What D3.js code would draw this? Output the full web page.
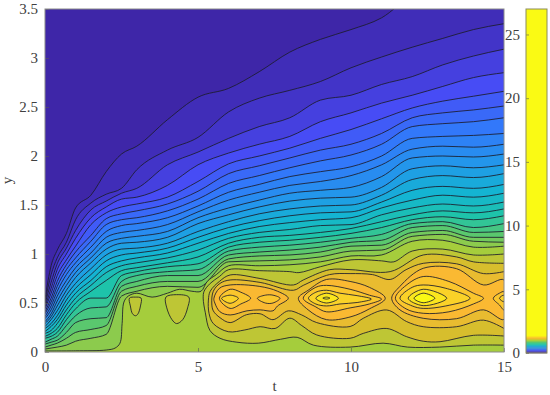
<!DOCTYPE html>
<html>
<head>
<meta charset="utf-8">
<script src="https://cdn.jsdelivr.net/npm/d3@7"></script>
<style>
  html, body { margin: 0; padding: 0; background: white; }
  svg { display: block; }
  text { font-family: "Liberation Serif", serif; font-size: 15px; fill: #404040; }
</style>
</head>
<body>
<div id="chart"></div>
<script>
const tTicks = [0, 5, 10, 15];
const yTicks = [0, 0.5, 1, 1.5, 2, 2.5, 3, 3.5];
const barTicks = [0, 5, 10, 15, 20, 25];

// t values of the rows in contourRows
const tKnots = [0, 0.2, 0.4, 0.7, 1, 1.5, 2, 2.5, 3, 4, 5, 6, 7, 8, 9, 10, 11, 12, 13, 14, 15];

// one row per t, one column per contour level 1..21, values are y
const contourRows = [
  [.54,.51,.49,.46,.44,.41,.39,.36,.34,.31,.29,.26,.24,.21,.19,.16,.14,.10,.08,.05,.03],
  [.88,.79,.71,.65,.60,.55,.51,.47,.43,.39,.36,.33,.29,.26,.22,.19,.16,.13,.10,.07,.04],
  [1.04,.96,.90,.84,.78,.72,.67,.62,.57,.52,.47,.42,.37,.33,.29,.24,.20,.16,.12,.09,.05],
  [1.21,1.12,1.06,1.00,.94,.89,.84,.79,.73,.68,.63,.58,.53,.48,.43,.38,.33,.27,.20,.14,.07],
  [1.47,1.35,1.24,1.16,1.08,1.02,.96,.91,.86,.81,.76,.70,.65,.60,.55,.50,.44,.37,.30,.20,.11],
  [1.60,1.52,1.45,1.37,1.30,1.19,1.13,1.07,1.01,.96,.91,.85,.79,.73,.68,.62,.55,.45,.34,.23,.14],
  [1.84,1.61,1.54,1.48,1.42,1.36,1.30,1.23,1.17,1.11,1.05,.99,.93,.87,.81,.73,.55,.46,.35,.27,.18],
  [2.02,1.67,1.62,1.56,1.48,1.41,1.35,1.29,1.22,1.16,1.11,1.05,.99,.93,.88,.83,.78,.72,.67,.62,.57],
  [2.10,1.86,1.67,1.58,1.51,1.44,1.37,1.31,1.24,1.18,1.12,1.06,1.01,.96,.91,.86,.82,.78,.72,.67,.62],
  [2.37,2.06,1.91,1.70,1.58,1.51,1.44,1.37,1.30,1.23,1.17,1.11,1.06,1.01,.96,.91,.87,.82,.78,.72,.67],
  [2.60,2.19,2.04,1.91,1.74,1.64,1.56,1.49,1.43,1.37,1.31,1.23,1.17,1.11,1.04,.97,.90,.84,.78,.72,.66],
  [2.69,2.45,2.18,2.03,1.92,1.82,1.72,1.63,1.55,1.47,1.40,1.33,1.27,1.21,1.16,1.11,1.07,1.03,.99,.95,.92],
  [2.86,2.59,2.30,2.12,2.00,1.90,1.80,1.71,1.63,1.55,1.48,1.41,1.34,1.28,1.22,1.17,1.12,1.07,1.02,.98,.93],
  [3.06,2.67,2.39,2.20,2.08,1.98,1.88,1.79,1.70,1.62,1.54,1.46,1.39,1.32,1.25,1.19,1.14,1.09,1.04,.99,.94],
  [3.19,2.76,2.57,2.35,2.18,2.06,1.95,1.84,1.74,1.65,1.57,1.49,1.42,1.35,1.29,1.22,1.17,1.12,1.07,1.02,.97],
  [3.29,2.90,2.62,2.44,2.27,2.12,2.01,1.89,1.80,1.68,1.58,1.50,1.43,1.37,1.30,1.26,1.21,1.16,1.12,1.08,1.03],
  [3.41,3.01,2.73,2.54,2.38,2.23,2.12,2.00,1.91,1.79,1.68,1.60,1.53,1.47,1.40,1.33,1.27,1.20,1.14,1.09,1.04],
  [3.64,3.11,2.81,2.62,2.49,2.39,2.30,2.18,2.07,1.98,1.87,1.76,1.65,1.55,1.47,1.40,1.35,1.31,1.27,1.22,1.18],
  [3.74,3.20,2.93,2.71,2.56,2.44,2.33,2.20,2.10,2.00,1.90,1.80,1.69,1.60,1.51,1.44,1.38,1.33,1.29,1.24,1.20],
  [3.85,3.29,3.02,2.80,2.61,2.47,2.35,2.21,2.09,1.99,1.88,1.78,1.67,1.58,1.49,1.42,1.35,1.27,1.22,1.17,1.13],
  [3.90,3.35,3.09,2.85,2.66,2.51,2.39,2.23,2.12,2.02,1.91,1.82,1.71,1.62,1.53,1.46,1.39,1.31,1.23,1.17,1.12]
];

// level 22, the edge of the green plateau
const plateauLine = [[0,.01],[1,.012],[2,.02],[2.29,.04],[2.45,.09],[2.52,.29],[2.58,.51],[2.72,.57],[3,.6],[3.5,.56],[4,.6],[4.4,.64],[4.8,.62],[5.1,.62],[5.3,.72],[5.6,.79],[6,.88],[7,.88],[8,.89],[9,.92],[10,.98],[11,.99],[12,1.13],[13,1.14],[14,1.07],[15,1.08]];

// levels 23..25 open to the right edge: lower side right to left, then upper side
const level23Line = [[15,.07],[14,.07],[12.9,.05],[11.85,.05],[11.05,.09],[9.97,.05],[8.77,.07],[8.24,.15],[7.7,.13],[6.97,.09],[6.27,.1],[5.72,.14],[5.39,.22],[5.24,.4],[5.17,.55],[5.2,.62],[5.4,.7],[5.7,.77],[6,.84],[7,.83],[8,.82],[8.3,.81],[9,.87],[10,.94],[11,.93],[11.4,.92],[12,1.03],[13,1.05],[14,.99],[15,1]];
const level24Line = [[15,.163],[14,.17],[12.91,.105],[12.36,.11],[11.82,.156],[11.17,.24],[10.4,.19],[9.97,.14],[8.88,.174],[8.39,.27],[8,.345],[7.52,.24],[7.03,.258],[6.53,.225],[5.99,.207],[5.5,.29],[5.36,.395],[5.34,.53],[5.4,.62],[5.7,.72],[6.05,.786],[7.03,.75],[8.12,.684],[8.44,.735],[9.3,.84],[10,.84],[11.28,.82],[12.36,.99],[13.45,.97],[14,.92],[15,.905]];
const level25Line = [[15,.24],[14.33,.325],[13.45,.258],[12.36,.258],[11.82,.31],[11.17,.429],[10.4,.344],[9.97,.26],[8.88,.3],[8.39,.378],[7.95,.42],[7.45,.33],[7.03,.39],[6.58,.38],[6.05,.3],[5.72,.35],[5.5,.42],[5.45,.5],[5.5,.62],[5.72,.7],[6.05,.735],[7.03,.71],[8.12,.63],[8.44,.68],[9.3,.79],[9.97,.8],[10.7,.79],[11.28,.74],[11.8,.84],[12.36,.905],[13.45,.9],[14.33,.8],[15,.82]];

// closed loops around the maxima near y = 0.5
const islandOne = [[2.76,.55],[2.95,.56],[3.14,.55],[3.12,.47],[3.04,.39],[2.96,.37],[2.86,.39],[2.79,.47]];
const islandTwo = [[3.95,.56],[4.3,.585],[4.7,.56],[4.66,.45],[4.5,.33],[4.3,.29],[4.15,.33],[3.98,.45]];
const loop26a = [[5.52,.548],[5.7,.65],[6.05,.684],[7,.67],[7.6,.62],[7.95,.548],[7.6,.47],[7.45,.42],[7.03,.43],[6.6,.42],[6.05,.378],[5.72,.41],[5.55,.5]];
const loop26b = [[8.28,.548],[8.6,.63],[9.2,.74],[9.97,.72],[10.6,.66],[11.12,.548],[10.6,.44],[10,.36],[9.2,.33],[8.6,.43]];
const loop26c = [[11.33,.548],[11.6,.67],[12.36,.854],[13.45,.85],[14.33,.684],[15,.735],[15,.333],[14.33,.43],[13.45,.34],[12.36,.344],[11.6,.43]];
const loop27a = [[5.7,.548],[6.05,.64],[6.4,.61],[6.72,.548],[6.4,.49],[6.05,.445]];
const loop27b = [[6.94,.548],[7.2,.58],[7.45,.58],[7.68,.548],[7.45,.5],[7.2,.5]];
const loop27c = [[8.44,.548],[8.85,.66],[9.2,.68],[9.97,.64],[10.6,.58],[11,.54],[10.6,.49],[9.97,.45],[9.2,.41],[8.85,.46]];
const loop27d = [[11.45,.548],[11.8,.68],[12.36,.77],[13.2,.72],[14,.6],[14.33,.548],[14,.49],[13.2,.41],[12.36,.395],[11.8,.44]];
const loop27e = [[14.65,.548],[14.85,.6],[15,.615],[15,.429],[14.85,.48]];
const loop28a = [[5.77,.548],[6.05,.58],[6.32,.548],[6.05,.497]];
const loop28b = [[8.61,.548],[8.85,.61],[9.2,.63],[9.64,.6],[10.2,.575],[10.67,.54],[10.2,.505],[9.64,.49],[9.2,.47],[8.85,.49]];
const loop28c = [[11.6,.548],[12,.66],[12.36,.684],[13.1,.65],[13.89,.548],[13.1,.47],[12.36,.445],[12,.47]];
const loop28d = [[14.85,.548],[15,.58],[15,.513]];
const loop29a = [[8.85,.548],[9.2,.6],[9.59,.548],[9.2,.5]];
const loop29b = [[11.87,.548],[12.36,.64],[13.13,.548],[12.36,.473]];
const loop30a = [[9.08,.55],[9.2,.56],[9.31,.55],[9.2,.54]];
const loop30b = [[12.06,.548],[12.36,.6],[12.74,.548],[12.36,.503]];

// band colours, indexed by contour level
const colourLevels = [0, 2, 4, 7, 10, 13, 16, 19, 22, 24, 26, 28, 30];
const colourValues = ['#3e26a8', '#4234c8', '#474cf5', '#3278fa', '#2396eb', '#14b4d2', '#1ec3aa', '#5ac86e', '#a5cd3c', '#d7be2d', '#fab932', '#fad228', '#fafa14'];
const barLevelStep = 0.045;
const barMax = 27;

displayContourChart('chart');

function displayContourChart(divId) {
    const svgWidth = 550;
    const svgHeight = 395;

    const plotLeft = 45;
    const plotRight = 504;
    const plotTop = 9;
    const plotBottom = 352;
    const barLeft = 526;
    const barRight = 547;
    const lineColour = '#1c1c2c';

    const svg = d3.select('#' + divId)
        .append('svg')
        .attr('width', svgWidth)
        .attr('height', svgHeight);

    const x = d3.scaleLinear().domain([0, 15]).range([plotLeft, plotRight]);
    const y = d3.scaleLinear().domain([0, 3.5]).range([plotBottom, plotTop]);
    const bandColour = d3.scaleLinear().domain(colourLevels).range(colourValues);

    svg.append('defs').append('clipPath')
        .attr('id', 'plot-clip')
        .append('rect')
        .attr('x', plotLeft)
        .attr('y', plotTop)
        .attr('width', plotRight - plotLeft)
        .attr('height', plotBottom - plotTop);

    const plot = svg.append('g').attr('clip-path', 'url(#plot-clip)');

    plot.append('rect')
        .attr('x', plotLeft)
        .attr('y', plotTop)
        .attr('width', plotRight - plotLeft)
        .attr('height', plotBottom - plotTop)
        .attr('fill', bandColour(0));

    const rowLine = d3.line().x(d => x(d[0])).y(d => y(d[1])).curve(d3.curveMonotoneX);
    const smoothLine = d3.line().x(d => x(d[0])).y(d => y(d[1])).curve(d3.curveCatmullRom.alpha(0.5));
    const smoothLoop = d3.line().x(d => x(d[0])).y(d => y(d[1])).curve(d3.curveCatmullRomClosed.alpha(0.5));

    function drawBand(level, linePath, fillPath) {
        plot.append('path')
            .attr('d', fillPath)
            .attr('fill', bandColour(level))
            .attr('stroke', 'none');
        plot.append('path')
            .attr('d', linePath)
            .attr('fill', 'none')
            .attr('stroke', lineColour)
            .attr('stroke-width', 1)
            .attr('stroke-opacity', 0.85);
    }

    // levels 1..21 run from the left edge to the right edge, the fill goes down to y = 0
    d3.transpose(contourRows).forEach((column, index) => {
        const points = column.map((value, row) => [tKnots[row], value]);
        const linePath = rowLine(points);
        drawBand(index + 1, linePath, linePath + `L${x(15)},${y(0)}L${x(0)},${y(0)}Z`);
    });

    const plateauPath = smoothLine(plateauLine);
    drawBand(22, plateauPath, plateauPath + `L${x(15)},${y(0)}L${x(0)},${y(0)}Z`);

    [[23, level23Line], [24, level24Line], [25, level25Line]].forEach(([level, points]) => {
        const linePath = smoothLine(points);
        drawBand(level, linePath, linePath + 'Z');
    });

    const loops = [
        [23, islandOne], [23, islandTwo],
        [26, loop26a], [26, loop26b], [26, loop26c],
        [27, loop27a], [27, loop27b], [27, loop27c], [27, loop27d], [27, loop27e],
        [28, loop28a], [28, loop28b], [28, loop28c], [28, loop28d],
        [29, loop29a], [29, loop29b],
        [30, loop30a], [30, loop30b]
    ];
    loops.forEach(([level, points]) => {
        const loopPath = smoothLoop(points);
        drawBand(level, loopPath, loopPath);
    });

    const xAxis = svg.append('g')
        .attr('transform', `translate(0, ${plotBottom})`)
        .call(d3.axisBottom(x).tickValues(tTicks).tickFormat(d => d).tickSize(-4).tickPadding(9));

    const yAxis = svg.append('g')
        .attr('transform', `translate(${plotLeft}, 0)`)
        .call(d3.axisLeft(y).tickValues(yTicks).tickFormat(d => d).tickSize(-4).tickPadding(7));

    svg.append('rect')
        .attr('x', plotLeft)
        .attr('y', plotTop)
        .attr('width', plotRight - plotLeft)
        .attr('height', plotBottom - plotTop)
        .attr('fill', 'none')
        .attr('stroke', '#8a8a8a')
        .attr('stroke-width', 1);

    svg.append('text')
        .attr('x', (plotLeft + plotRight) / 2)
        .attr('y', 391)
        .attr('text-anchor', 'middle')
        .text('t');

    svg.append('text')
        .attr('transform', `translate(12, ${(plotTop + plotBottom) / 2}) rotate(-90)`)
        .attr('text-anchor', 'middle')
        .text('y');

    // colour bar: a thin stack of the bands at the bottom, then yellow up to the top
    const barScale = d3.scaleLinear().domain([0, barMax]).range([plotBottom + 1, plotTop]);
    const barLevels = d3.range(0, 31);

    svg.append('rect')
        .attr('x', barLeft)
        .attr('y', barScale(barMax))
        .attr('width', barRight - barLeft)
        .attr('height', barScale(0) - barScale(barMax))
        .attr('fill', bandColour(30));

    svg.selectAll('rect.bar-band')
        .data(barLevels)
        .join('rect')
        .attr('class', 'bar-band')
        .attr('x', barLeft)
        .attr('y', d => barScale((d + 1) * barLevelStep))
        .attr('width', barRight - barLeft)
        .attr('height', d => barScale(d * barLevelStep) - barScale((d + 1) * barLevelStep) + 0.3)
        .attr('fill', d => bandColour(d));

    const barAxis = svg.append('g')
        .attr('transform', `translate(${barLeft}, 0)`)
        .call(d3.axisLeft(barScale).tickValues(barTicks).tickFormat(d => d).tickSize(-3).tickPadding(6));

    svg.append('rect')
        .attr('x', barLeft)
        .attr('y', barScale(barMax))
        .attr('width', barRight - barLeft)
        .attr('height', barScale(0) - barScale(barMax))
        .attr('fill', 'none')
        .attr('stroke', '#8c8c5a')
        .attr('stroke-width', 1);

    [xAxis, yAxis, barAxis].forEach(axis => {
        axis.select('.domain').remove();
        axis.selectAll('.tick line').attr('stroke', '#555').attr('stroke-width', 0.6);
        axis.attr('font-size', null).attr('font-family', null);
    });
}
</script>
</body>
</html>
